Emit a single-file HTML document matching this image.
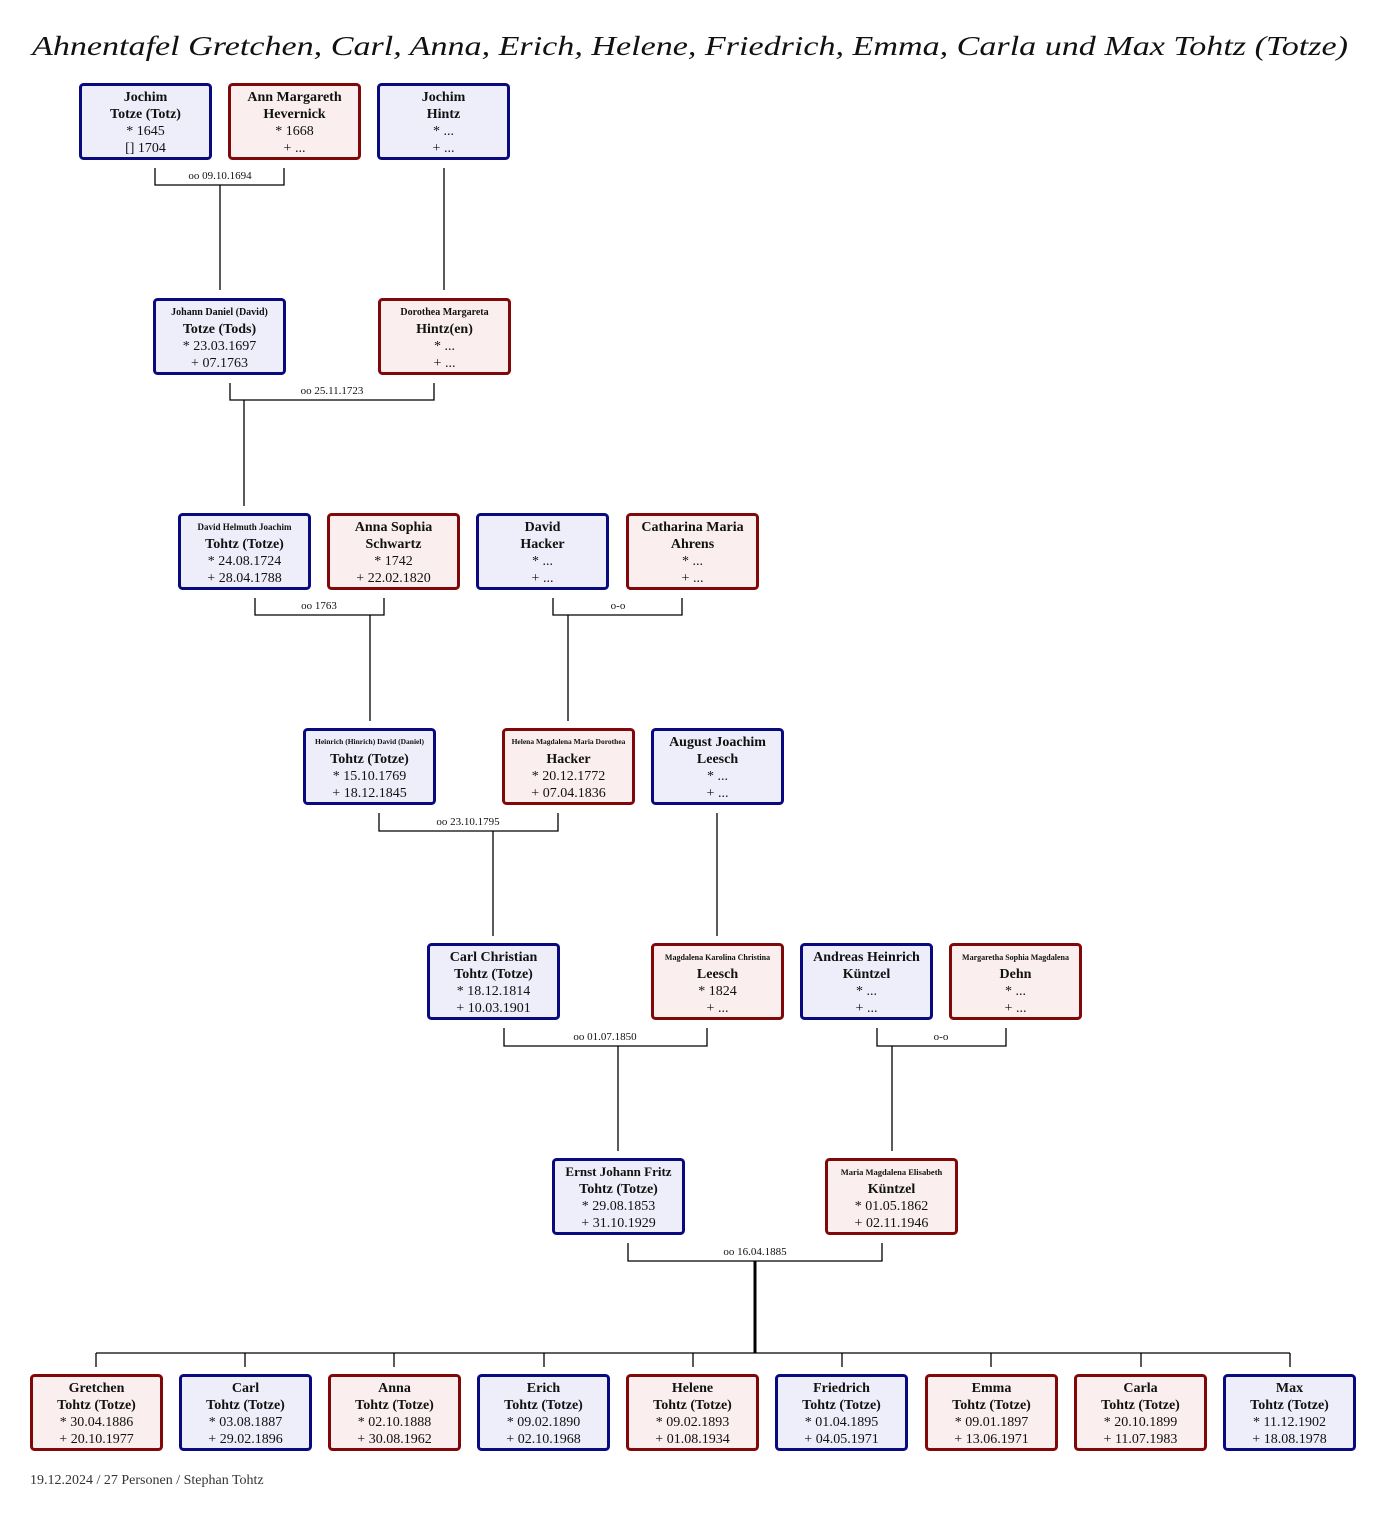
<!DOCTYPE html>
<html><head><meta charset="utf-8"><style>
html,body{margin:0;padding:0;background:#fff;}
svg{display:block;}
text{font-family:"Liberation Serif",serif;fill:#111;}
.b{font-weight:bold;font-size:14px;}
.n{font-size:14px;}
.s{font-weight:bold;font-size:10px;}
.xs{font-weight:bold;font-size:7.5px;}
.l{font-size:11px;}
.m{fill:#eeeefa;stroke:#0a0a80;stroke-width:3;}
.f{fill:#faeeee;stroke:#800808;stroke-width:3;}
line,polyline{stroke:#000;stroke-width:1.3;fill:none;}
</style></head><body>
<svg width="1388" height="1517" viewBox="0 0 1388 1517" xmlns="http://www.w3.org/2000/svg">
<text x="32" y="55" font-size="27" font-style="italic" textLength="1316" lengthAdjust="spacingAndGlyphs">Ahnentafel Gretchen, Carl, Anna, Erich, Helene, Friedrich, Emma, Carla und Max Tohtz (Totze)</text>

<!-- connectors -->
<polyline points="155,168 155,185 284,185 284,168"/><line x1="220" y1="185" x2="220" y2="290"/>
<text class="l" x="220" y="179" text-anchor="middle">oo 09.10.1694</text>
<line x1="444" y1="168" x2="444" y2="290"/>

<polyline points="230,383 230,400 434,400 434,383"/><line x1="244" y1="400" x2="244" y2="506"/>
<text class="l" x="332" y="394" text-anchor="middle">oo 25.11.1723</text>

<polyline points="255,598 255,615 384,615 384,598"/><line x1="370" y1="615" x2="370" y2="721"/>
<text class="l" x="319" y="609" text-anchor="middle">oo 1763</text>
<polyline points="553,598 553,615 682,615 682,598"/><line x1="568" y1="615" x2="568" y2="721"/>
<text class="l" x="618" y="609" text-anchor="middle">o-o</text>

<polyline points="379,813 379,831 558,831 558,813"/><line x1="493" y1="831" x2="493" y2="936"/>
<text class="l" x="468" y="825" text-anchor="middle">oo 23.10.1795</text>
<line x1="717" y1="813" x2="717" y2="936"/>

<polyline points="504,1028 504,1046 707,1046 707,1028"/><line x1="618" y1="1046" x2="618" y2="1151"/>
<text class="l" x="605" y="1040" text-anchor="middle">oo 01.07.1850</text>
<polyline points="877,1028 877,1046 1006,1046 1006,1028"/><line x1="892" y1="1046" x2="892" y2="1151"/>
<text class="l" x="941" y="1040" text-anchor="middle">o-o</text>

<polyline points="628,1243 628,1261 882,1261 882,1243"/>
<text class="l" x="755" y="1255" text-anchor="middle">oo 16.04.1885</text>
<line x1="755" y1="1261" x2="755" y2="1353" style="stroke-width:3"/>
<line x1="96" y1="1353" x2="1290" y2="1353"/>
<line x1="96" y1="1353" x2="96" y2="1367"/><line x1="245" y1="1353" x2="245" y2="1367"/><line x1="394" y1="1353" x2="394" y2="1367"/><line x1="544" y1="1353" x2="544" y2="1367"/><line x1="693" y1="1353" x2="693" y2="1367"/><line x1="842" y1="1353" x2="842" y2="1367"/><line x1="991" y1="1353" x2="991" y2="1367"/><line x1="1141" y1="1353" x2="1141" y2="1367"/><line x1="1290" y1="1353" x2="1290" y2="1367"/>

<!-- row 1 -->
<rect class="m" x="80.5" y="84.5" width="130" height="74" rx="3"/>
<text text-anchor="middle"><tspan class="b" x="145.5" y="101">Jochim</tspan><tspan class="b" x="145.5" y="118">Totze (Totz)</tspan><tspan class="n" x="145.5" y="135">* 1645</tspan><tspan class="n" x="145.5" y="152">[] 1704</tspan></text>
<rect class="f" x="229.5" y="84.5" width="130" height="74" rx="3"/>
<text text-anchor="middle"><tspan class="b" x="294.5" y="101">Ann Margareth</tspan><tspan class="b" x="294.5" y="118">Hevernick</tspan><tspan class="n" x="294.5" y="135">* 1668</tspan><tspan class="n" x="294.5" y="152">+ ...</tspan></text>
<rect class="m" x="378.5" y="84.5" width="130" height="74" rx="3"/>
<text text-anchor="middle"><tspan class="b" x="443.5" y="101">Jochim</tspan><tspan class="b" x="443.5" y="118">Hintz</tspan><tspan class="n" x="443.5" y="135">* ...</tspan><tspan class="n" x="443.5" y="152">+ ...</tspan></text>

<!-- row 2 -->
<rect class="m" x="154.5" y="299.5" width="130" height="74" rx="3"/>
<text text-anchor="middle"><tspan class="s" x="219.5" y="315">Johann Daniel (David)</tspan><tspan class="b" x="219.5" y="333">Totze (Tods)</tspan><tspan class="n" x="219.5" y="350">* 23.03.1697</tspan><tspan class="n" x="219.5" y="367">+ 07.1763</tspan></text>
<rect class="f" x="379.5" y="299.5" width="130" height="74" rx="3"/>
<text text-anchor="middle"><tspan class="s" x="444.5" y="315">Dorothea Margareta</tspan><tspan class="b" x="444.5" y="333">Hintz(en)</tspan><tspan class="n" x="444.5" y="350">* ...</tspan><tspan class="n" x="444.5" y="367">+ ...</tspan></text>

<!-- row 3 -->
<rect class="m" x="179.5" y="514.5" width="130" height="74" rx="3"/>
<text text-anchor="middle"><tspan class="s" x="244.5" y="530" style="font-size:9px">David Helmuth Joachim</tspan><tspan class="b" x="244.5" y="548">Tohtz (Totze)</tspan><tspan class="n" x="244.5" y="565">* 24.08.1724</tspan><tspan class="n" x="244.5" y="582">+ 28.04.1788</tspan></text>
<rect class="f" x="328.5" y="514.5" width="130" height="74" rx="3"/>
<text text-anchor="middle"><tspan class="b" x="393.5" y="531">Anna Sophia</tspan><tspan class="b" x="393.5" y="548">Schwartz</tspan><tspan class="n" x="393.5" y="565">* 1742</tspan><tspan class="n" x="393.5" y="582">+ 22.02.1820</tspan></text>
<rect class="m" x="477.5" y="514.5" width="130" height="74" rx="3"/>
<text text-anchor="middle"><tspan class="b" x="542.5" y="531">David</tspan><tspan class="b" x="542.5" y="548">Hacker</tspan><tspan class="n" x="542.5" y="565">* ...</tspan><tspan class="n" x="542.5" y="582">+ ...</tspan></text>
<rect class="f" x="627.5" y="514.5" width="130" height="74" rx="3"/>
<text text-anchor="middle"><tspan class="b" x="692.5" y="531">Catharina Maria</tspan><tspan class="b" x="692.5" y="548">Ahrens</tspan><tspan class="n" x="692.5" y="565">* ...</tspan><tspan class="n" x="692.5" y="582">+ ...</tspan></text>

<!-- row 4 -->
<rect class="m" x="304.5" y="729.5" width="130" height="74" rx="3"/>
<text text-anchor="middle"><tspan class="xs" x="369.5" y="744">Heinrich (Hinrich) David (Daniel)</tspan><tspan class="b" x="369.5" y="763">Tohtz (Totze)</tspan><tspan class="n" x="369.5" y="780">* 15.10.1769</tspan><tspan class="n" x="369.5" y="797">+ 18.12.1845</tspan></text>
<rect class="f" x="503.5" y="729.5" width="130" height="74" rx="3"/>
<text text-anchor="middle"><tspan class="xs" x="568.5" y="744">Helena Magdalena Maria Dorothea</tspan><tspan class="b" x="568.5" y="763">Hacker</tspan><tspan class="n" x="568.5" y="780">* 20.12.1772</tspan><tspan class="n" x="568.5" y="797">+ 07.04.1836</tspan></text>
<rect class="m" x="652.5" y="729.5" width="130" height="74" rx="3"/>
<text text-anchor="middle"><tspan class="b" x="717.5" y="746">August Joachim</tspan><tspan class="b" x="717.5" y="763">Leesch</tspan><tspan class="n" x="717.5" y="780">* ...</tspan><tspan class="n" x="717.5" y="797">+ ...</tspan></text>

<!-- row 5 -->
<rect class="m" x="428.5" y="944.5" width="130" height="74" rx="3"/>
<text text-anchor="middle"><tspan class="b" x="493.5" y="961">Carl Christian</tspan><tspan class="b" x="493.5" y="978">Tohtz (Totze)</tspan><tspan class="n" x="493.5" y="995">* 18.12.1814</tspan><tspan class="n" x="493.5" y="1012">+ 10.03.1901</tspan></text>
<rect class="f" x="652.5" y="944.5" width="130" height="74" rx="3"/>
<text text-anchor="middle"><tspan class="xs" x="717.5" y="960" style="font-size:8px">Magdalena Karolina Christina</tspan><tspan class="b" x="717.5" y="978">Leesch</tspan><tspan class="n" x="717.5" y="995">* 1824</tspan><tspan class="n" x="717.5" y="1012">+ ...</tspan></text>
<rect class="m" x="801.5" y="944.5" width="130" height="74" rx="3"/>
<text text-anchor="middle"><tspan class="b" x="866.5" y="961">Andreas Heinrich</tspan><tspan class="b" x="866.5" y="978">Küntzel</tspan><tspan class="n" x="866.5" y="995">* ...</tspan><tspan class="n" x="866.5" y="1012">+ ...</tspan></text>
<rect class="f" x="950.5" y="944.5" width="130" height="74" rx="3"/>
<text text-anchor="middle"><tspan class="xs" x="1015.5" y="960" style="font-size:8px">Margaretha Sophia Magdalena</tspan><tspan class="b" x="1015.5" y="978">Dehn</tspan><tspan class="n" x="1015.5" y="995">* ...</tspan><tspan class="n" x="1015.5" y="1012">+ ...</tspan></text>

<!-- row 6 -->
<rect class="m" x="553.5" y="1159.5" width="130" height="74" rx="3"/>
<text text-anchor="middle"><tspan class="b" x="618.5" y="1176" style="font-size:13px">Ernst Johann Fritz</tspan><tspan class="b" x="618.5" y="1193">Tohtz (Totze)</tspan><tspan class="n" x="618.5" y="1210">* 29.08.1853</tspan><tspan class="n" x="618.5" y="1227">+ 31.10.1929</tspan></text>
<rect class="f" x="826.5" y="1159.5" width="130" height="74" rx="3"/>
<text text-anchor="middle"><tspan class="xs" x="891.5" y="1175" style="font-size:8.5px">Maria Magdalena Elisabeth</tspan><tspan class="b" x="891.5" y="1193">Küntzel</tspan><tspan class="n" x="891.5" y="1210">* 01.05.1862</tspan><tspan class="n" x="891.5" y="1227">+ 02.11.1946</tspan></text>

<!-- row 7 -->
<rect class="f" x="31.5" y="1375.5" width="130" height="74" rx="3"/>
<text text-anchor="middle"><tspan class="b" x="96.5" y="1392">Gretchen</tspan><tspan class="b" x="96.5" y="1409">Tohtz (Totze)</tspan><tspan class="n" x="96.5" y="1426">* 30.04.1886</tspan><tspan class="n" x="96.5" y="1443">+ 20.10.1977</tspan></text>
<rect class="m" x="180.5" y="1375.5" width="130" height="74" rx="3"/>
<text text-anchor="middle"><tspan class="b" x="245.5" y="1392">Carl</tspan><tspan class="b" x="245.5" y="1409">Tohtz (Totze)</tspan><tspan class="n" x="245.5" y="1426">* 03.08.1887</tspan><tspan class="n" x="245.5" y="1443">+ 29.02.1896</tspan></text>
<rect class="f" x="329.5" y="1375.5" width="130" height="74" rx="3"/>
<text text-anchor="middle"><tspan class="b" x="394.5" y="1392">Anna</tspan><tspan class="b" x="394.5" y="1409">Tohtz (Totze)</tspan><tspan class="n" x="394.5" y="1426">* 02.10.1888</tspan><tspan class="n" x="394.5" y="1443">+ 30.08.1962</tspan></text>
<rect class="m" x="478.5" y="1375.5" width="130" height="74" rx="3"/>
<text text-anchor="middle"><tspan class="b" x="543.5" y="1392">Erich</tspan><tspan class="b" x="543.5" y="1409">Tohtz (Totze)</tspan><tspan class="n" x="543.5" y="1426">* 09.02.1890</tspan><tspan class="n" x="543.5" y="1443">+ 02.10.1968</tspan></text>
<rect class="f" x="627.5" y="1375.5" width="130" height="74" rx="3"/>
<text text-anchor="middle"><tspan class="b" x="692.5" y="1392">Helene</tspan><tspan class="b" x="692.5" y="1409">Tohtz (Totze)</tspan><tspan class="n" x="692.5" y="1426">* 09.02.1893</tspan><tspan class="n" x="692.5" y="1443">+ 01.08.1934</tspan></text>
<rect class="m" x="776.5" y="1375.5" width="130" height="74" rx="3"/>
<text text-anchor="middle"><tspan class="b" x="841.5" y="1392">Friedrich</tspan><tspan class="b" x="841.5" y="1409">Tohtz (Totze)</tspan><tspan class="n" x="841.5" y="1426">* 01.04.1895</tspan><tspan class="n" x="841.5" y="1443">+ 04.05.1971</tspan></text>
<rect class="f" x="926.5" y="1375.5" width="130" height="74" rx="3"/>
<text text-anchor="middle"><tspan class="b" x="991.5" y="1392">Emma</tspan><tspan class="b" x="991.5" y="1409">Tohtz (Totze)</tspan><tspan class="n" x="991.5" y="1426">* 09.01.1897</tspan><tspan class="n" x="991.5" y="1443">+ 13.06.1971</tspan></text>
<rect class="f" x="1075.5" y="1375.5" width="130" height="74" rx="3"/>
<text text-anchor="middle"><tspan class="b" x="1140.5" y="1392">Carla</tspan><tspan class="b" x="1140.5" y="1409">Tohtz (Totze)</tspan><tspan class="n" x="1140.5" y="1426">* 20.10.1899</tspan><tspan class="n" x="1140.5" y="1443">+ 11.07.1983</tspan></text>
<rect class="m" x="1224.5" y="1375.5" width="130" height="74" rx="3"/>
<text text-anchor="middle"><tspan class="b" x="1289.5" y="1392">Max</tspan><tspan class="b" x="1289.5" y="1409">Tohtz (Totze)</tspan><tspan class="n" x="1289.5" y="1426">* 11.12.1902</tspan><tspan class="n" x="1289.5" y="1443">+ 18.08.1978</tspan></text>

<text x="30" y="1484" font-size="14" style="fill:#333">19.12.2024 / 27 Personen / Stephan Tohtz</text>
</svg>
</body></html>
